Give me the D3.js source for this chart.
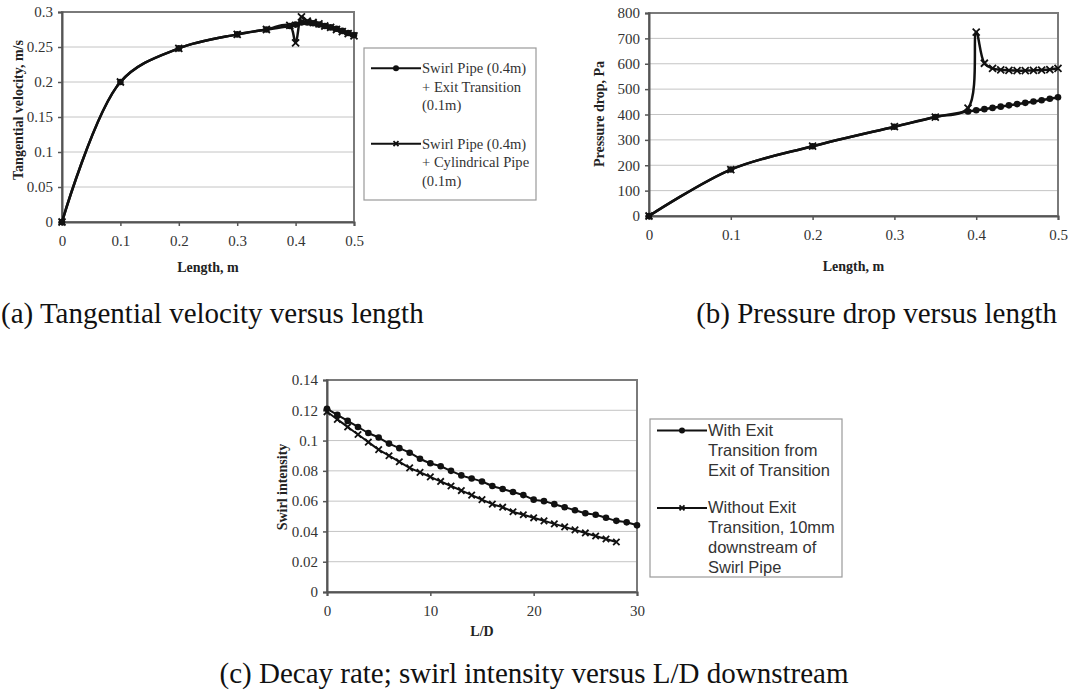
<!DOCTYPE html>
<html>
<head>
<meta charset="utf-8">
<script src="https://cdn.jsdelivr.net/npm/d3@7"></script>
<style>
  body { margin: 0; background: #fff; }
  svg { display: block; }
</style>
</head>
<body>
<svg id="chart" width="1068" height="700"></svg>
<script>
// (a) + (b): length along pipe, m
const lengthX = [0, 0.1, 0.2, 0.3, 0.35, 0.39, 0.4, 0.41, 0.42, 0.43, 0.44, 0.45, 0.46, 0.47, 0.48, 0.49, 0.5];
const velExit = [0, 0.2, 0.248, 0.268, 0.275, 0.280, 0.282, 0.285, 0.285, 0.284, 0.282, 0.280, 0.278, 0.276, 0.273, 0.270, 0.267];
const velCyl  = [0, 0.2, 0.248, 0.268, 0.275, 0.281, 0.256, 0.293, 0.287, 0.285, 0.283, 0.280, 0.278, 0.275, 0.272, 0.269, 0.266];
const pressExit = [0, 183, 275, 352, 390, 412, 417, 421, 426, 431, 436, 441, 446, 451, 456, 462, 468];
const pressCyl  = [0, 183, 275, 352, 390, 425, 725, 602, 582, 576, 574, 573, 573, 574, 575, 577, 582];

// (c): L/D downstream
const ldExit = [0, 1, 2, 3, 4, 5, 6, 7, 8, 9, 10, 11, 12, 13, 14, 15, 16, 17, 18, 19, 20, 21, 22, 23, 24, 25, 26, 27, 28, 29, 30];
const swirlExit = [0.121, 0.117, 0.113, 0.109, 0.105, 0.102, 0.098, 0.095, 0.092, 0.088, 0.085, 0.083, 0.080, 0.077, 0.075, 0.073,
  0.070, 0.068, 0.066, 0.064, 0.061, 0.060, 0.058, 0.056, 0.054, 0.052, 0.051, 0.049, 0.047, 0.046, 0.044];
const ldNoExit = [0, 1, 2, 3, 4, 5, 6, 7, 8, 9, 10, 11, 12, 13, 14, 15, 16, 17, 18, 19, 20, 21, 22, 23, 24, 25, 26, 27, 28];
const swirlNoExit = [0.119, 0.114, 0.109, 0.104, 0.099, 0.094, 0.090, 0.086, 0.082, 0.079, 0.076, 0.073, 0.070, 0.067, 0.064,
  0.061, 0.058, 0.056, 0.053, 0.051, 0.049, 0.047, 0.045, 0.043, 0.041, 0.039, 0.037, 0.035, 0.033];

const ticksLength = [0, 0.1, 0.2, 0.3, 0.4, 0.5];
const ticksVel = [0, 0.05, 0.1, 0.15, 0.2, 0.25, 0.3];
const ticksPress = [0, 100, 200, 300, 400, 500, 600, 700, 800];
const ticksLD = [0, 10, 20, 30];
const ticksSwirl = [0, 0.02, 0.04, 0.06, 0.08, 0.1, 0.12, 0.14];

const legendA = [["Swirl Pipe (0.4m)", "+ Exit Transition", "(0.1m)"], ["Swirl Pipe (0.4m)", "+ Cylindrical Pipe", "(0.1m)"]];
const legendC = [["With Exit", "Transition from", "Exit of Transition"], ["Without Exit", "Transition, 10mm", "downstream of", "Swirl Pipe"]];

const svg = d3.select('#chart');
const serif = 'Liberation Serif, Times New Roman, serif';
const sans = 'Liberation Sans, Arial, sans-serif';

function drawMarker(g, type, x, y, size) {
  if (type === 'dot') {
    g.append('circle').attr('cx', x).attr('cy', y).attr('r', size).attr('fill', '#111');
  } else {
    const s = size;
    g.append('path')
      .attr('d', `M${x - s},${y - s}L${x + s},${y + s}M${x - s},${y + s}L${x + s},${y - s}`)
      .attr('stroke', '#111').attr('stroke-width', 1.8).attr('fill', 'none');
  }
}

function panel(p) {
  const g = svg.append('g');
  const x = d3.scaleLinear().domain(p.xDomain).range([p.left, p.right]);
  const y = d3.scaleLinear().domain(p.yDomain).range([p.bottom, p.top]);

  // gridlines
  g.selectAll('line.grid').data(p.yTicks.slice(1, -1)).join('line')
    .attr('x1', p.left).attr('x2', p.right)
    .attr('y1', d => y(d)).attr('y2', d => y(d))
    .attr('stroke', '#c4c4c4').attr('stroke-width', 1);

  // plot frame
  g.append('rect')
    .attr('x', p.left).attr('y', p.top)
    .attr('width', p.right - p.left).attr('height', p.bottom - p.top)
    .attr('fill', 'none').attr('stroke', '#7a7a7a').attr('stroke-width', 2);

  const yAxis = d3.axisLeft(y).tickValues(p.yTicks).tickSize(4).tickPadding(5)
    .tickFormat(d3.format(''));
  const xAxis = d3.axisBottom(x).tickValues(p.xTicks).tickSize(4).tickPadding(9)
    .tickFormat(d3.format(''));

  const ya = g.append('g').attr('transform', `translate(${p.left},0)`).call(yAxis);
  const xa = g.append('g').attr('transform', `translate(0,${p.bottom})`).call(xAxis);
  [ya, xa].forEach(a => {
    a.select('.domain').attr('stroke', '#555').attr('stroke-width', 2);
    a.selectAll('.tick line').attr('stroke', '#555').attr('stroke-width', 1.5);
    a.selectAll('.tick text').attr('font-family', serif).attr('font-size', 15).attr('fill', '#333');
  });

  // axis titles
  g.append('text').attr('x', (p.left + p.right) / 2).attr('y', p.xTitleY)
    .attr('text-anchor', 'middle').attr('font-family', serif).attr('font-weight', 'bold')
    .attr('font-size', 14).attr('fill', '#222').text(p.xTitle);
  g.append('text').attr('transform', `translate(${p.yTitleX},${p.yTitleCY}) rotate(-90)`)
    .attr('text-anchor', 'middle').attr('font-family', serif).attr('font-weight', 'bold')
    .attr('font-size', 14).attr('fill', '#222').text(p.yTitle);

  const line = d3.line().x(d => x(d[0])).y(d => y(d[1])).curve(d3.curveCatmullRom.alpha(0.5));

  p.series.forEach(s => {
    const pts = d3.zip(s.xs, s.ys);
    g.append('path').datum(pts).attr('d', line)
      .attr('fill', 'none').attr('stroke', '#111').attr('stroke-width', p.lineWidth);
    const mg = g.append('g');
    pts.forEach(d => drawMarker(mg, s.marker, x(d[0]), y(d[1]), s.marker === 'dot' ? p.dotR : p.crossR));
  });
}

panel({
  left: 62, right: 354, top: 12, bottom: 222,
  xDomain: [0, 0.5], yDomain: [0, 0.3],
  xTicks: ticksLength, yTicks: ticksVel,
  xTitle: 'Length, m', xTitleY: 272,
  yTitle: 'Tangential velocity, m/s', yTitleX: 23, yTitleCY: 110,
  lineWidth: 2.5, dotR: 3.3, crossR: 3.5,
  series: [
    { xs: lengthX, ys: velExit, marker: 'dot' },
    { xs: lengthX, ys: velCyl, marker: 'cross' }
  ]
});

panel({
  left: 649, right: 1058, top: 13, bottom: 216,
  xDomain: [0, 0.5], yDomain: [0, 800],
  xTicks: ticksLength, yTicks: ticksPress,
  xTitle: 'Length, m', xTitleY: 271,
  yTitle: 'Pressure drop, Pa', yTitleX: 604, yTitleCY: 114,
  lineWidth: 2.5, dotR: 3.3, crossR: 3.5,
  series: [
    { xs: lengthX, ys: pressExit, marker: 'dot' },
    { xs: lengthX, ys: pressCyl, marker: 'cross' }
  ]
});

panel({
  left: 327, right: 637, top: 380, bottom: 592,
  xDomain: [0, 30], yDomain: [0, 0.14],
  xTicks: ticksLD, yTicks: ticksSwirl,
  xTitle: 'L/D', xTitleY: 636,
  yTitle: 'Swirl intensity', yTitleX: 287, yTitleCY: 487,
  lineWidth: 2, dotR: 3.3, crossR: 3.2,
  series: [
    { xs: ldExit, ys: swirlExit, marker: 'dot' },
    { xs: ldNoExit, ys: swirlNoExit, marker: 'cross' }
  ]
});

// legends
function legend(box, entries, font, size, lineH, gap, markerR) {
  const g = svg.append('g');
  g.append('rect').attr('x', box.x).attr('y', box.y).attr('width', box.w).attr('height', box.h)
    .attr('fill', '#fff').attr('stroke', '#9a9a9a').attr('stroke-width', 1.2);
  let ty = box.y + box.pad;
  entries.forEach((lines, i) => {
    const ly = ty - size * 0.33;
    g.append('line').attr('x1', box.x + 7).attr('x2', box.x + 57).attr('y1', ly).attr('y2', ly)
      .attr('stroke', '#111').attr('stroke-width', 2);
    drawMarker(g, i === 0 ? 'dot' : 'cross', box.x + 32, ly, i === 0 ? markerR : markerR - 0.5);
    lines.forEach((t, j) => {
      g.append('text').attr('x', box.x + 58).attr('y', ty + j * lineH)
        .attr('font-family', font).attr('font-size', size).attr('fill', '#333').text(t);
    });
    ty += lines.length * lineH + gap;
  });
}

legend({ x: 364, y: 48, w: 172, h: 152, pad: 25 }, legendA, serif, 14.6, 18.5, 20, 3);
legend({ x: 650, y: 419, w: 192, h: 158, pad: 17 }, legendC, sans, 16.5, 19.8, 18, 3);

// captions
const cap = svg.append('g').attr('font-family', serif).attr('font-size', 29).attr('fill', '#111');
cap.append('text').attr('x', 1).attr('y', 323).text('(a) Tangential velocity versus length');
cap.append('text').attr('x', 1057).attr('y', 323).attr('text-anchor', 'end').text('(b) Pressure drop versus length');
cap.append('text').attr('x', 534).attr('y', 683).attr('text-anchor', 'middle').text('(c) Decay rate; swirl intensity versus L/D downstream');
</script>
</body>
</html>
